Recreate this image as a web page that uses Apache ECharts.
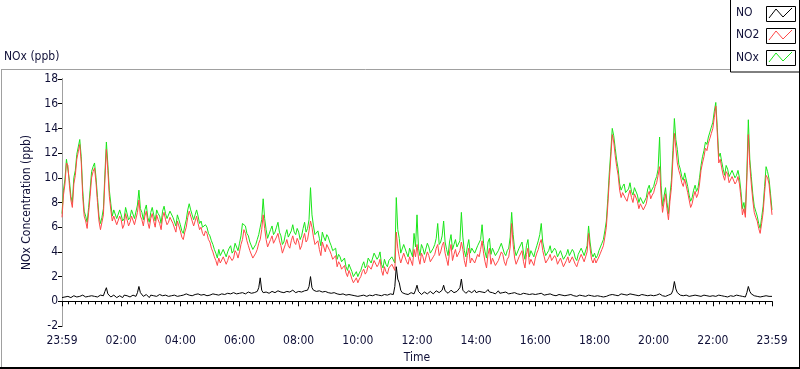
<!DOCTYPE html>
<html>
<head>
<meta charset="utf-8">
<script src="https://cdn.jsdelivr.net/npm/echarts@6/dist/echarts.min.js"></script>
<style>
html,body{margin:0;padding:0;background:#fff;}
#chart{width:800px;height:369px;}
</style>
</head>
<body>
<div id="chart"></div>
<script>
// ---- data (3-minute samples, minutes after the 23:59 start) ----
var stepMinutes = 3;
var xTickLabels = ['23:59','02:00','04:00','06:00','08:00','10:00','12:00','14:00','16:00','18:00','20:00','22:00','23:59'];
var yTicks = [-2,0,2,4,6,8,10,12,14,16,18];

var no = [
0.3,0.2,0.35,0.45,0.4,0.3,0.3,0.45,0.45,0.3,0.35,0.5,0.4,0.3,0.5,0.35,0.35,0.45,0.4,0.3,
0.45,0.35,0.4,0.5,0.35,0.25,0.5,0.4,0.45,0.8,1.1,0.6,0.5,0.35,0.4,0.5,0.45,0.3,0.35,0.45,
0.4,0.3,0.5,0.4,0.45,0.55,0.35,0.45,0.5,0.35,0.4,0.7,1.2,0.7,0.55,0.4,0.45,0.55,0.4,0.3,
0.5,0.4,0.45,0.35,0.4,0.5,0.55,0.4,0.45,0.35,0.5,0.6,0.4,0.3,0.45,0.55,0.5,0.35,0.4,0.5,
0.45,0.35,0.5,0.6,0.6,0.45,0.5,0.4,0.45,0.6,0.55,0.45,0.6,0.7,0.5,0.4,0.55,0.65,0.45,0.55,
0.5,0.4,0.6,0.7,0.55,0.45,0.5,0.6,0.6,0.5,0.55,0.7,0.65,0.5,0.6,0.75,0.7,0.55,0.6,0.7,
0.65,0.5,0.7,0.85,0.6,0.7,0.75,0.6,0.65,0.8,0.7,0.6,0.8,1.1,1.9,0.9,0.7,0.6,0.75,0.9,
0.65,0.75,0.8,0.65,0.7,0.85,0.85,0.7,0.75,0.6,0.7,0.85,0.8,0.65,0.75,0.9,0.9,0.75,0.7,0.85,
0.8,0.7,0.75,0.9,0.85,0.7,0.9,1.2,2.0,1.1,0.9,0.75,0.8,0.95,0.85,0.7,0.75,0.85,0.8,0.65,
0.7,0.8,0.65,0.55,0.7,0.6,0.6,0.5,0.55,0.65,0.6,0.45,0.5,0.6,0.55,0.45,0.5,0.4,0.45,0.55,
0.4,0.3,0.45,0.55,0.5,0.4,0.4,0.5,0.5,0.6,0.45,0.35,0.55,0.45,0.5,0.6,0.45,0.55,0.55,0.4,
0.5,0.6,0.6,0.45,0.55,1.2,2.8,1.8,1.5,0.9,0.7,0.55,0.6,0.7,0.55,0.45,0.7,0.8,0.6,0.9,
1.3,0.8,0.65,0.55,0.6,0.75,0.7,0.6,0.65,0.8,0.75,0.6,0.7,0.85,0.9,0.7,0.75,0.9,1.3,0.85,
0.8,0.65,0.75,0.9,0.85,0.7,0.7,0.8,0.8,1.1,1.8,0.9,0.75,0.65,0.7,0.85,0.8,0.7,0.75,0.9,
0.7,0.6,0.8,0.9,0.75,0.65,0.7,0.85,0.95,0.75,0.8,0.7,0.7,0.6,0.75,0.85,0.65,0.55,0.7,0.8,
0.75,0.6,0.6,0.7,0.65,0.75,0.7,0.55,0.6,0.7,0.55,0.45,0.65,0.75,0.6,0.5,0.55,0.65,0.6,0.5,
0.55,0.65,0.6,0.5,0.65,0.75,0.5,0.4,0.55,0.65,0.6,0.5,0.5,0.6,0.45,0.35,0.55,0.65,0.5,0.4,
0.45,0.55,0.5,0.4,0.55,0.65,0.45,0.35,0.4,0.5,0.5,0.6,0.45,0.35,0.4,0.5,0.5,0.4,0.45,0.55,
0.4,0.3,0.45,0.55,0.4,0.3,0.35,0.45,0.4,0.5,0.5,0.6,0.55,0.45,0.5,0.6,0.45,0.35,0.6,0.7,
0.55,0.45,0.5,0.6,0.6,0.5,0.55,0.65,0.5,0.4,0.45,0.55,0.55,0.45,0.5,0.6,0.45,0.35,0.5,0.6,
0.45,0.35,0.5,0.6,0.6,0.5,0.45,0.35,0.4,0.5,0.5,0.6,0.6,0.9,1.6,1,0.7,0.55,0.5,0.4,
0.45,0.55,0.5,0.4,0.4,0.5,0.45,0.35,0.5,0.6,0.45,0.35,0.4,0.5,0.5,0.4,0.45,0.55,0.4,0.3,
0.45,0.35,0.4,0.5,0.5,0.4,0.45,0.55,0.4,0.3,0.35,0.45,0.45,0.35,0.4,0.5,0.5,0.4,0.45,0.35,
0.4,0.5,0.35,0.7,1.2,0.8,0.6,0.45,0.45,0.55,0.4,0.3,0.35,0.45,0.4,0.5,0.45,0.35,0.4,0.45,
0.4
];

var no2 = [
6.8,8.6,9.5,11.2,11,9.4,8.2,7.6,9.5,10.2,11.5,12.1,12.7,11.3,8.5,6.9,6.5,5.9,7.2,8.5,
10,10.5,10.8,9.6,8,6.5,5.8,6.4,7,9.8,12.3,10.6,8.5,7.4,6.5,6.9,7,6.2,6.3,6.9,
6.6,5.9,6.2,7.1,7,6.1,6.4,6.9,6.8,6.2,6.3,7.2,8.2,6.9,6.6,6.1,6.9,7.3,6.4,5.9,
6.7,7.1,6.5,6,7,6.6,6.3,5.8,6.8,7.2,6.6,6.2,6.4,6.8,6.9,6.3,6.2,5.6,6.5,6.1,
5.7,5.2,5,5.6,6,6.8,7.3,6.9,6.5,6.1,6.5,6.9,6.3,5.8,6,5.5,5.3,5.7,5.5,5,
4.8,4.3,4,3.6,3.3,2.9,3.5,3.1,3.2,3.6,3.5,3,3.3,3.7,3.8,3.3,3.5,4.1,3.9,3.5,
4,4.6,5,5.8,5.5,4.9,4.5,4.1,4,3.5,3.5,3.9,4.2,4.7,5,5.8,7,5.9,5,4.4,
4.5,5,5.3,4.7,4.8,5.2,5.5,4.9,4.5,3.9,4,4.6,5,4.5,4.3,4.9,5.3,4.8,4.6,5.1,
4.8,4.2,4.5,5.1,5.5,4.8,5,5.7,6.5,6,5.2,4.6,4.5,4.9,4.2,3.7,4.8,4.4,4,4.6,
4.5,4.1,3.8,3.4,3.3,3.7,2.8,3.2,3,2.6,2.5,2.9,2.3,2,2.5,2.2,1.8,1.5,1.6,1.9,
1.5,1.8,2,2.4,2.6,2.2,2.4,2.9,3,2.6,2.7,3.3,3.2,2.8,3,3.4,2.5,2.1,2.8,2.4,
2.2,2.7,2.6,3,2.9,2.5,5.6,4.3,3.6,3.1,3.2,3.9,3.8,3.2,3,3.6,3.5,2.9,4.2,3.6,
4.6,3.5,3,3.9,3.6,3.1,3.2,4,3.7,3.2,3.1,3.6,3.8,4.3,4.6,3.7,4,4.5,4.8,3.9,
3.4,2.9,4,4.6,3.3,3.8,4.2,3.6,3.5,4.1,4.8,4.2,3.3,2.8,3.7,4.3,3.1,3.5,3.6,3.1,
3.1,3.8,3.6,4.2,4.9,3.9,3.2,2.7,3.8,4.3,3,3.5,3.5,2.9,2.8,3.3,3.4,4,3.8,3.2,
2.9,3.4,3.6,4.4,6.3,4.6,3.5,3,3,3.6,3.7,4.1,3.2,2.7,3.8,4.3,3,3.4,3.5,2.9,
3.5,3.9,4.2,4.7,5,4.1,3.6,3.1,3.1,3.5,3.8,3.3,3.2,3.7,3.5,3,3,3.5,3.4,2.8,
2.9,3.3,3.6,3.1,3.1,3.6,3.5,3,2.8,3.2,3.3,3.8,3.7,3.2,3.2,4,5.5,4.3,3.4,3.1,
3.5,3.1,3.2,3.6,3.9,4.2,4.5,5.2,6,7.8,9.8,11.6,13.5,12.9,11.8,10.9,10.2,9,8.4,8.8,
8.9,8.3,8.1,8.6,9,8.4,8,8.7,8.7,8.1,7.5,7.9,7.9,7.4,7.3,7.9,8.6,8.9,8.3,8.6,
8.8,9.3,9.6,10.2,10.9,8.6,7.2,8,8.7,7.5,6.6,8.1,9.2,11.5,13.6,12.4,11.2,10.6,10.2,9.6,
9.3,9.9,9.8,8.8,8.2,7.6,7.9,8.5,8.9,8.4,8.7,9.5,10.6,11.2,11.7,12.4,12.2,12.8,13.2,13.6,
14,14.9,15.8,13.6,11.2,11.5,10.8,10.2,9.8,10.5,10.3,9.6,9.6,10.1,10.2,9.5,9.7,10.1,9.5,8.4,
7,7.5,6.8,9.9,13.5,11,9.5,8.2,7.2,6.8,6.5,5.9,5.5,6.3,7.2,8.8,10.2,10,9.5,8.2,
7
];

var nox = [
7.1,9,9.9,11.5,11.4,9.8,8.5,8,10,10.6,11.9,12.5,13.1,11.7,9,7.3,6.9,6.4,7.6,9,
10.5,10.9,11.2,10,8.4,6.9,6.3,6.8,7.5,10.3,12.9,11.1,9,7.9,6.9,7.4,7.5,6.7,6.7,7.4,
7,6.5,6.7,7.6,7.5,6.6,6.8,7.4,7.3,6.7,6.7,7.8,9,7.5,7.2,6.6,7.4,7.8,6.8,6.4,
7.2,7.6,7,6.5,7.4,7.1,6.9,6.3,7.3,7.7,7.1,6.7,6.8,7.3,7.4,6.8,6.7,6.1,7,6.6,
6.2,5.7,5.5,6.1,6.6,7.4,7.9,7.4,7,6.6,7,7.4,6.9,6.3,6.5,6,5.9,6.2,6,5.5,
5.3,4.9,4.6,4.2,3.9,3.5,4.2,3.7,3.8,4.2,4.1,3.6,4,4.3,4.5,3.9,4.1,4.7,4.6,4.1,
4.7,5.3,6.3,6.4,6.1,5.5,5.3,4.8,4.7,4.2,4.3,4.6,5,5.4,6,6.6,8.3,6.7,5.8,5.1,
5.2,5.8,6.1,5.4,5.6,6,6.4,5.6,5.3,4.6,4.8,5.4,5.8,5.2,5.1,5.7,6.2,5.6,5.4,5.9,
5.6,5,5.3,5.9,6.4,5.6,5.9,6.6,9.2,7,6.1,5.4,5.4,5.7,5.1,4.5,5.6,5.2,4.9,5.4,
5.2,4.8,4.5,4.1,4,4.3,3.4,3.8,3.6,3.2,3.1,3.5,2.8,2.5,3,2.7,2.4,2,2.1,2.4,
2,2.3,2.5,2.9,3.2,2.7,2.9,3.5,3.6,3.1,3.2,3.9,3.8,3.4,3.6,4,3,2.7,3.4,3,
2.8,3.3,3.3,3.6,3.5,3.1,8.4,5.8,5.1,3.9,3.9,4.6,4.5,3.9,3.6,4.3,4.2,3.6,5.5,4.4,
7,4.3,3.7,4.6,4.3,3.8,3.9,4.7,4.4,3.9,3.9,4.3,4.6,5.1,6.3,4.6,4.8,5.3,6.5,4.8,
4.2,3.7,4.8,5.4,4.2,4.6,5,4.4,4.3,4.9,7.2,5.2,4.1,3.6,4.4,5,3.9,4.3,4.4,3.9,
3.8,4.5,4.4,5,6.2,4.7,4,3.5,4.8,5.1,3.8,4.3,4.3,3.7,3.6,4.1,4.1,4.7,4.6,3.9,
3.7,4.1,4.3,5.2,7.2,5.4,4.2,3.7,3.7,4.3,4.4,4.8,3.9,3.4,4.5,5,3.6,4.1,4.1,3.6,
4.1,4.5,4.9,5.4,6.3,4.8,4.2,3.7,3.7,4.1,4.5,3.9,3.8,4.3,4.1,3.6,3.6,4.1,4,3.4,
3.4,3.8,4.2,3.7,3.7,4.2,4,3.5,3.3,3.8,3.8,4.3,4.2,3.7,3.7,4.5,6.1,4.8,3.9,3.6,
3.9,3.5,3.7,4.1,4.4,4.7,5,5.7,6.5,8.3,10.4,12.1,14,13.4,12.4,11.4,10.7,9.5,9,9.3,
9.5,8.8,8.7,9.1,9.6,8.9,8.6,9.2,9.2,8.6,8,8.4,8.5,7.9,7.8,8.4,9.1,9.4,8.8,9.1,
9.3,9.8,10.1,10.7,13.3,9.4,7.7,8.5,9.2,8,7.1,8.6,9.8,12.2,14.8,13.1,12.3,11.1,10.7,10.1,
9.8,10.4,10.3,9.3,8.6,8.1,8.4,9,9.4,8.9,9.2,10,11,11.7,12.2,12.9,12.7,13.3,13.7,14.1,
14.5,15.4,16.1,14.1,11.7,12,11.3,10.7,10.2,11,10.7,10.1,10,10.6,10.7,10,10.2,10.6,10,8.9,
7.5,8,7.2,10.4,14.7,11.5,10.1,8.7,7.7,7.3,6.9,6.3,5.9,6.8,7.7,9.3,10.9,10.5,9.9,8.7,
7.4
];

function pairs(arr){ return arr.map(function(v,i){ return [i*stepMinutes, v]; }); }

var FONT = "'DejaVu Sans Condensed','Liberation Sans',sans-serif";
var TXT = '#101038';
var RED = '#ff4848', GREEN = '#19e619';

var chart = echarts.init(document.getElementById('chart'), null, {renderer:'canvas'});
var option = {
  animation: false,
  backgroundColor: '#ffffff',
  grid: {left: 62, right: 28, top: 79, bottom: 40, containLabel: false},
  xAxis: [{
    type: 'value', min: 0, max: 1440, interval: 120,
    name: 'Time', nameLocation: 'middle', nameGap: 26,
    nameTextStyle: {color: TXT, fontSize: 12, fontFamily: FONT},
    axisLine: {show: true, lineStyle: {color: '#a0a0a0', width: 1}},
    axisTick: {show: true, length: 5, lineStyle: {color: '#000'}},
    minorTick: {show: true, splitNumber: 9, length: 3, lineStyle: {color: '#000'}},
    axisLabel: {color: TXT, fontSize: 12, fontFamily: FONT, margin: 9,
      formatter: function(v){ return xTickLabels[Math.round(v/120)]; }},
    splitLine: {show: false}
  },{
    type: 'value', position: 'top', min: 0, max: 1440,
    axisLine: {show: true, lineStyle: {color: '#000', width: 1}},
    axisTick: {show: false}, axisLabel: {show: false}, splitLine: {show: false}
  }],
  yAxis: [{
    type: 'value', min: yTicks[0], max: yTicks[yTicks.length-1], interval: 2,
    name: 'NOx Concentration (ppb)', nameLocation: 'middle', nameGap: 23, nameRotate: 90,
    nameTextStyle: {color: TXT, fontSize: 12, fontFamily: FONT},
    axisLine: {show: true, lineStyle: {color: '#000', width: 1}},
    axisTick: {show: true, length: 4, lineStyle: {color: '#000'}},
    axisLabel: {color: TXT, fontSize: 12, fontFamily: FONT, margin: 4},
    splitLine: {show: false}
  },{
    type: 'value', position: 'right', min: -2, max: 18,
    axisLine: {show: true, lineStyle: {color: '#a0a0a0', width: 1}},
    axisTick: {show: false}, axisLabel: {show: false}, splitLine: {show: false}
  }],
  series: [
    {name: 'NOx', type: 'line', data: pairs(nox), showSymbol: false, symbol: 'none',
     lineStyle: {color: GREEN, width: 1}, itemStyle: {color: GREEN}},
    {name: 'NO2', type: 'line', data: pairs(no2), showSymbol: false, symbol: 'none',
     lineStyle: {color: RED, width: 1}, itemStyle: {color: RED}},
    {name: 'NO', type: 'line', data: pairs(no), showSymbol: false, symbol: 'none',
     lineStyle: {color: '#000000', width: 1}, itemStyle: {color: '#000'}}
  ],
  graphic: [
    {type: 'line', shape: {x1: 1.5, y1: 69.5, x2: 1.5, y2: 368}, style: {stroke: '#a0a0a0', lineWidth: 1}, silent: true},
    {type: 'line', shape: {x1: 1, y1: 69.5, x2: 730, y2: 69.5}, style: {stroke: '#a0a0a0', lineWidth: 1}, silent: true},
    {type: 'line', shape: {x1: 0, y1: 368, x2: 800, y2: 368}, style: {stroke: '#000', lineWidth: 2}, silent: true},
    {type: 'line', shape: {x1: 799.5, y1: 0, x2: 799.5, y2: 369}, style: {stroke: '#000', lineWidth: 1}, silent: true},
    {type: 'text', left: 4, top: 51, style: {text: 'NOx (ppb)', fill: TXT, font: '12px ' + FONT}, silent: true},
    {type: 'rect', shape: {x: 730.5, y: -1, width: 69, height: 73}, style: {fill: '#fff', stroke: '#000', lineWidth: 1}, silent: true},
    {type: 'text', left: 736, top: 7, style: {text: 'NO', fill: TXT, font: '12px ' + FONT}, silent: true},
    {type: 'text', left: 736, top: 29, style: {text: 'NO2', fill: TXT, font: '12px ' + FONT}, silent: true},
    {type: 'text', left: 736, top: 52, style: {text: 'NOx', fill: TXT, font: '12px ' + FONT}, silent: true},
    {type: 'rect', shape: {x: 766.5, y: 6.5, width: 29, height: 15}, style: {fill: '#fff', stroke: '#000', lineWidth: 1}, silent: true},
    {type: 'rect', shape: {x: 766.5, y: 28.5, width: 29, height: 15}, style: {fill: '#fff', stroke: '#000', lineWidth: 1}, silent: true},
    {type: 'rect', shape: {x: 766.5, y: 50.5, width: 29, height: 15}, style: {fill: '#fff', stroke: '#000', lineWidth: 1}, silent: true},
    {type: 'polyline', shape: {points: [[769,18],[776,9],[783,17],[792,8]]}, style: {stroke: '#000', lineWidth: 1, fill: null}, silent: true},
    {type: 'polyline', shape: {points: [[769,40],[776,31],[783,39],[792,30]]}, style: {stroke: RED, lineWidth: 1, fill: null}, silent: true},
    {type: 'polyline', shape: {points: [[769,62],[776,53],[783,61],[792,52]]}, style: {stroke: GREEN, lineWidth: 1, fill: null}, silent: true}
  ]
};
chart.setOption(option);
</script>
</body>
</html>
